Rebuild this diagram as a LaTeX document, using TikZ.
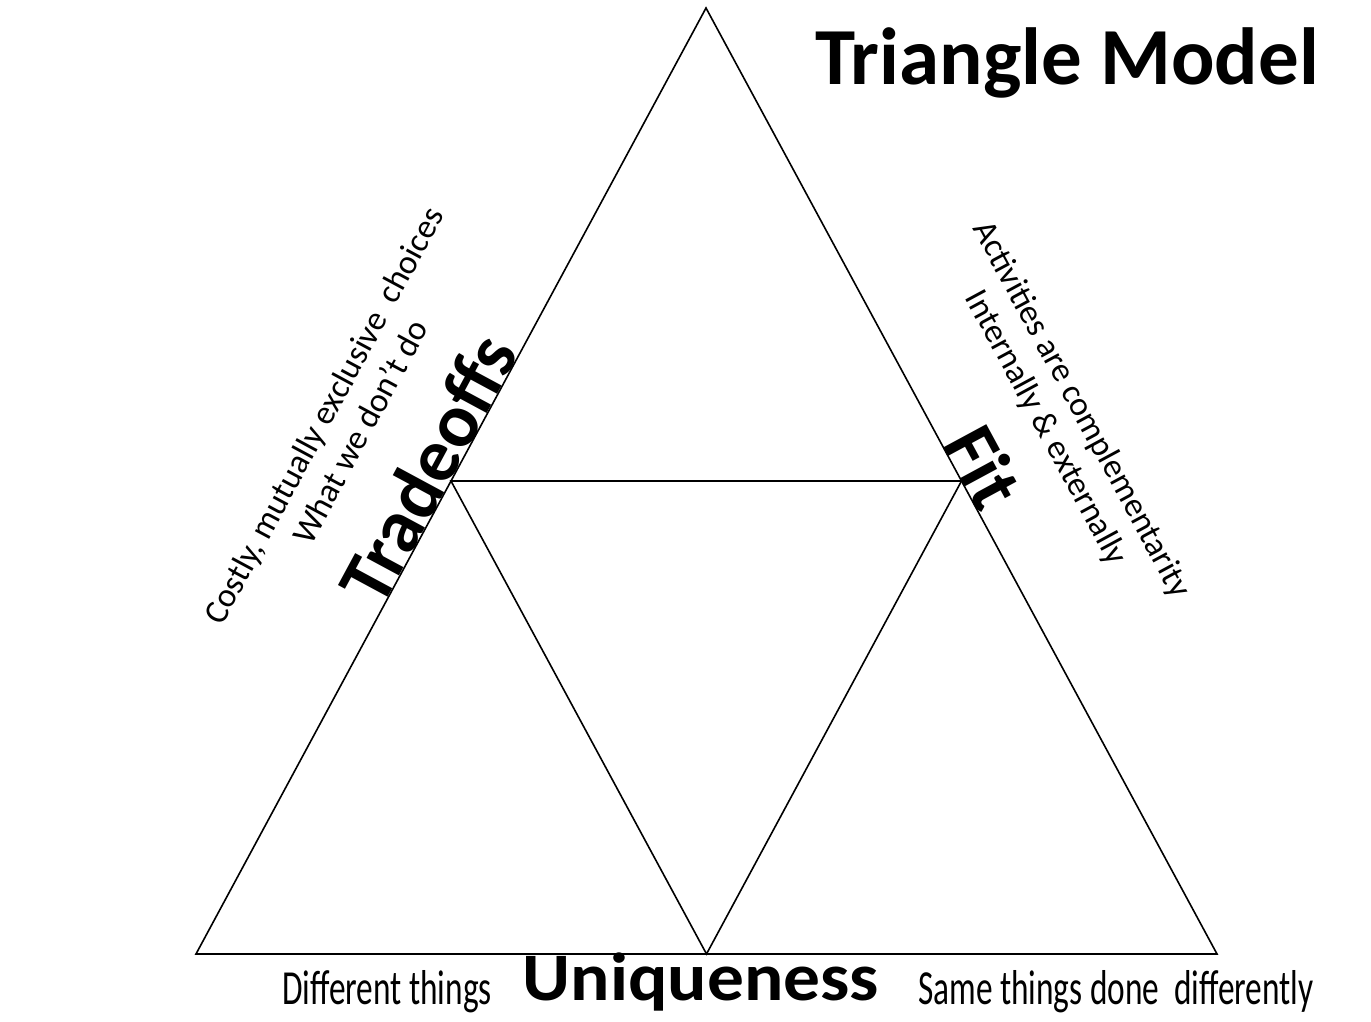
\documentclass[tikz,border=0pt]{standalone}
\usepackage{fontspec}
\setmainfont{Carlito}
\begin{document}
\begin{tikzpicture}[x=1pt,y=1pt,
  edge/.style={line width=1.6pt, line join=miter},
  small/.style={font=\fontsize{34}{40}\selectfont, inner sep=0pt},
  bottomtext/.style={font=\fontsize{49}{55}\selectfont, inner sep=0pt, xscale=0.68},
  big/.style={font=\fontsize{76}{80}\selectfont\bfseries, inner sep=0pt},
  wide/.style={font=\fontsize{68}{72}\selectfont\bfseries, inner sep=0pt, xscale=1.08},
  titlefont/.style={font=\fontsize{81}{85}\selectfont\bfseries, inner sep=0pt}]
\useasboundingbox[fill=white] (0,0) rectangle (1371,1022);
\coordinate (A) at (706,1014);
\coordinate (B) at (196,68);
\coordinate (C) at (1217,68);
\coordinate (L) at (451,541);
\coordinate (R) at (961.5,541);
\coordinate (M) at (706.5,68);
\draw[edge] (A) -- (B) -- (C) -- cycle;
\draw[edge] (L) -- (R) -- (M) -- cycle;
\node[titlefont, anchor=base] (title) at (1067,937) {Triangle Model};
% left side
\begin{scope}[shift={(L)}, rotate=61.67]
  \node[big, anchor=base, rotate=61.67] (trade) at (0,0) {Tradeoffs};
  \node[small, anchor=base, rotate=61.67] (what) at (0,92) {What we don’t do};
  \node[small, anchor=base, rotate=61.67] (costly) at (-3,132) {Costly, mutually exclusive\ \ choices};
\end{scope}
% right side
\begin{scope}[shift={(R)}, rotate=-61.62]
  \node[big, anchor=base, rotate=-61.62] (fit) at (-2,0) {Fit};
  \node[small, anchor=base, rotate=-61.62] (intern) at (-7,90) {Internally \& externally};
  \node[small, anchor=base, rotate=-61.62] (activ) at (-6,130) {Activities are complementarity};
\end{scope}
% bottom
\node[wide, anchor=base] (uniq) at (701,21) {Uniqueness};
\node[bottomtext, anchor=base east] (diff) at (492,17) {Different things};
\node[bottomtext, anchor=base west] (same) at (918,17) {Same things done\ \ differently};
\end{tikzpicture}
\end{document}
